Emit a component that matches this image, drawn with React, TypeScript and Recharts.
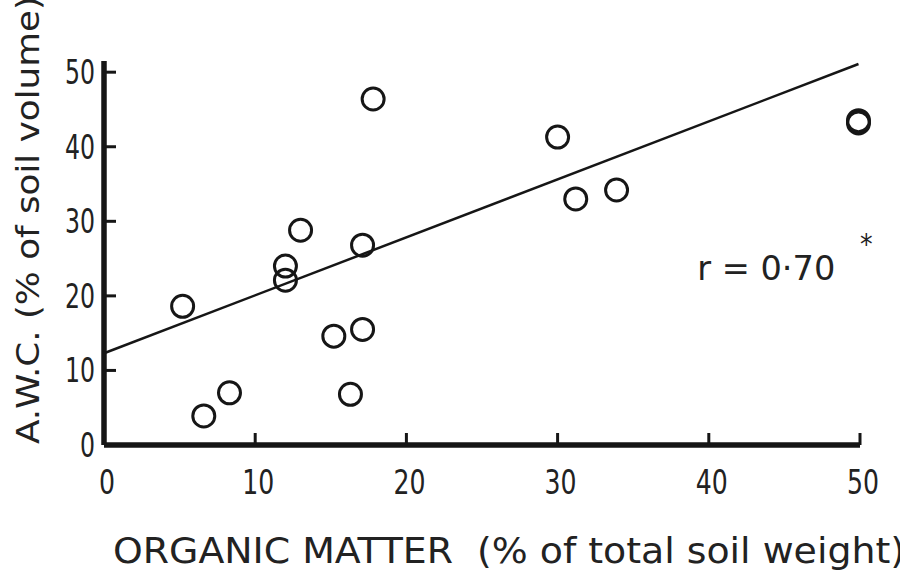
import { ReferenceDot, Scatter, ScatterChart, XAxis, YAxis } from "recharts"

// organic matter (% of total soil weight) vs available water capacity (% of soil volume)
const organicMatter = [5.2, 6.6, 8.3, 12.0, 12.0, 13.0, 15.2, 16.3, 17.1, 17.1, 17.8, 30.0, 31.2, 33.9, 49.9, 49.9]
const awc = [18.6, 3.9, 7.0, 24.0, 22.1, 28.8, 14.6, 6.8, 15.5, 26.8, 46.4, 41.3, 33.0, 34.2, 43.2, 43.5]

// regression line end points
const fitX = [0, 49.9]
const fitY = [12.3, 51.1]

const xTicks = [0, 10, 20, 30, 40, 50]
const yTicks = [0, 10, 20, 30, 40, 50]

const rLabel = "r = 0·70"
const rPos = { x: 43.8, y: 23.7 }

const points = organicMatter.map((x, i) => ({ x, y: awc[i] }))
const fit = fitX.map((x, i) => ({ x, y: fitY[i] }))

const font = '"Liberation Sans Narrow", "DejaVu Sans Condensed", sans-serif'
const ink = "#161616"
const textInk = "#222"

function XTick({ x, y, payload }: any) {
  const s = String(payload.value)
  return (
    <g>
      <line x1={x} y1={y} x2={x} y2={y - 12} stroke={ink} strokeWidth={3} />
      <text
        x={x + 3}
        y={y + 49}
        textAnchor="middle"
        fontFamily={font}
        fontSize={34}
        fill={textInk}
        textLength={s.length * 16}
        lengthAdjust="spacingAndGlyphs"
      >
        {s}
      </text>
    </g>
  )
}

function YTick({ x, y, payload }: any) {
  const s = String(payload.value)
  return (
    <g>
      <line x1={x} y1={y} x2={x + 12} y2={y} stroke={ink} strokeWidth={3} />
      <text
        x={x - 9}
        y={y + 12}
        textAnchor="end"
        fontFamily={font}
        fontSize={34}
        fill={textInk}
        textLength={s.length * 15}
        lengthAdjust="spacingAndGlyphs"
      >
        {s}
      </text>
    </g>
  )
}

function Ring({ cx, cy }: any) {
  return <circle cx={cx} cy={cy} r={11} fill="none" stroke={ink} strokeWidth={3} />
}

function YTitle() {
  return (
    <text
      transform="translate(39, 444) rotate(-90)"
      fontFamily={font}
      fontSize={32}
      fill={textInk}
      textLength={448}
      lengthAdjust="spacingAndGlyphs"
    >
      A.W.C. (% of soil volume)
    </text>
  )
}

function XTitle() {
  return (
    <text
      x={113}
      y={563}
      fontFamily={font}
      fontSize={36}
      fill={textInk}
      textLength={792}
      lengthAdjust="spacingAndGlyphs"
      style={{ whiteSpace: "pre" }}
    >
      ORGANIC MATTER  (% of total soil weight)
    </text>
  )
}

function RLabel({ viewBox }: any) {
  const cx = viewBox.x + (viewBox.width ?? 0) / 2
  const cy = viewBox.y + (viewBox.height ?? 0) / 2
  return (
    <g>
      <text
        x={cx}
        y={cy + 12}
        textAnchor="middle"
        fontFamily={font}
        fontSize={33}
        fill={textInk}
        textLength={138}
        lengthAdjust="spacingAndGlyphs"
      >
        {rLabel}
      </text>
      <text x={cx + 100} y={cy - 14} textAnchor="middle" fontFamily={font} fontSize={28} fill={textInk}>
        *
      </text>
    </g>
  )
}

export default function App() {
  return (
    <div style={{ position: "absolute", left: 0, top: 0, width: 900, height: 576, background: "#fff" }}>
      <ScatterChart width={900} height={576} margin={{ top: 61, right: 40, left: 0, bottom: 0 }}>
        <XAxis
          type="number"
          dataKey="x"
          domain={[0, 50]}
          ticks={xTicks}
          height={131}
          tickLine={false}
          tickSize={0}
          tickMargin={0}
          axisLine={{ stroke: ink, strokeWidth: 5.5 }}
          tick={<XTick />}
          label={<XTitle />}
        />
        <YAxis
          type="number"
          dataKey="y"
          domain={[0, 51.5]}
          ticks={yTicks}
          width={104}
          tickLine={false}
          tickSize={0}
          tickMargin={0}
          axisLine={{ stroke: ink, strokeWidth: 5.5 }}
          tick={<YTick />}
          label={<YTitle />}
        />
        <Scatter
          data={fit}
          line={{ stroke: ink, strokeWidth: 2.5 }}
          shape={() => <g />}
          isAnimationActive={false}
        />
        <Scatter data={points} shape={<Ring />} isAnimationActive={false} />
        <ReferenceDot x={rPos.x} y={rPos.y} r={0} stroke="none" fill="none" label={<RLabel />} />
      </ScatterChart>
    </div>
  )
}
